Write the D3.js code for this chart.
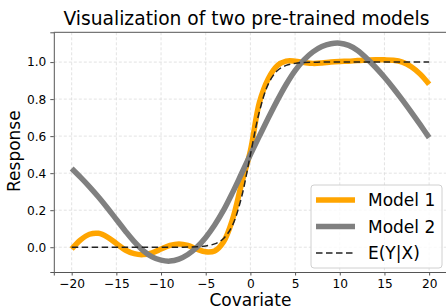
<!DOCTYPE html>
<html>
<head>
<meta charset="utf-8">
<script src="https://cdn.jsdelivr.net/npm/d3@7"></script>
<style>
body { margin: 0; background: #fff; }
svg text { font-family: "DejaVu Sans", sans-serif; fill: #000; }
.grid line { stroke: #dcdcdc; stroke-width: 0.8; stroke-dasharray: 3,2; }
.axis path, .axis line { stroke: #555; }
.axis text { font-size: 12.2px; }
</style>
</head>
<body>
<svg id="chart" width="446" height="307"></svg>
<script>
var covariate = [-20,-19,-18,-17,-16,-15,-14,-13,-12,-11,-10,-9,-8,-7,-6,-5,-4,-3,-2,-1,0,
                 1,2,3,4,5,6,7,8,9,10,11,12,13,14,15,16,17,18,19,20];

var model1 = [-0.01,0.04,0.07,0.075,0.055,0.02,-0.015,-0.035,-0.04,-0.03,-0.01,0.01,0.018,0.01,-0.01,-0.025,-0.02,0.03,0.15,0.34,0.52,
              0.78,0.91,0.98,1.005,1.005,0.998,0.993,0.995,1.0,1.003,1.005,1.008,1.01,1.012,1.012,1.01,1.0,0.975,0.935,0.88];

var model2 = [0.425,0.377,0.326,0.271,0.212,0.15,0.088,0.03,-0.018,-0.052,-0.07,-0.075,-0.064,-0.039,0.0,0.053,0.12,0.2,0.295,0.397,0.5,
              0.6,0.698,0.792,0.879,0.954,1.012,1.055,1.084,1.099,1.102,1.09,1.063,1.02,0.972,0.918,0.859,0.796,0.73,0.662,0.592];

var truth = [0,0,0,0,0,0,0,0,0,0,0,0,0,0.001,0.0025,0.0067,0.018,0.047,0.119,0.269,0.5,
             0.731,0.881,0.953,0.982,0.993,0.9975,0.999,1,1,1,1,1,1,1,1,1,1,1,1,1];

var xTicks = [-20,-15,-10,-5,0,5,10,15,20];
var yTicks = [0.0,0.2,0.4,0.6,0.8,1.0];
var seriesNames = ["Model 1", "Model 2", "E(Y|X)"];

var svg = d3.select("#chart");
var margin = {top: 32.3, left: 53.8};
var width = 447 - margin.left;
var height = 272 - margin.top;

// matplotlib-style 5% margins
var xr = d3.extent(covariate);
var allY = model1.concat(model2, truth);
var yr = d3.extent(allY);
var xPad = (xr[1] - xr[0]) * 0.05, yPad = (yr[1] - yr[0]) * 0.05;

var x = d3.scaleLinear().domain([xr[0] - xPad, xr[1] + xPad]).range([0, width]);
var y = d3.scaleLinear().domain([yr[0] - yPad, yr[1] + yPad]).range([height, 0]);

var g = svg.append("g").attr("transform", "translate(" + margin.left + "," + margin.top + ")");

// grid
g.append("g").attr("class", "grid")
  .selectAll("line.v").data(xTicks).enter().append("line")
  .attr("x1", function(d) { return x(d); }).attr("x2", function(d) { return x(d); })
  .attr("y1", 0).attr("y2", height);
g.append("g").attr("class", "grid")
  .selectAll("line.h").data(yTicks).enter().append("line")
  .attr("y1", function(d) { return y(d); }).attr("y2", function(d) { return y(d); })
  .attr("x1", 0).attr("x2", width);

var fmtX = function(d) { return d < 0 ? "\u2212" + Math.abs(d) : d; };

g.append("g").attr("class", "axis")
  .attr("transform", "translate(0," + height + ")")
  .call(d3.axisBottom(x).tickValues(xTicks).tickFormat(fmtX).tickSizeOuter(0).tickSize(3.5).tickPadding(4));

g.append("g").attr("class", "axis")
  .call(d3.axisLeft(y).tickValues(yTicks).tickFormat(d3.format(".1f")).tickSizeOuter(0).tickSize(3.5).tickPadding(4));

// top / right spines
g.append("line").attr("x1", 0).attr("x2", width).attr("y1", 0).attr("y2", 0).attr("stroke", "#555");
g.append("line").attr("x1", width).attr("x2", width).attr("y1", 0).attr("y2", height).attr("stroke", "#555");

var line = function(vals) {
  return d3.line()
    .x(function(d, i) { return x(covariate[i]); })
    .y(function(d) { return y(d); })
    .curve(d3.curveCatmullRom)(vals);
};

g.append("path").attr("d", line(model1)).attr("fill", "none")
  .attr("stroke", "#ffa500").attr("stroke-width", 5.5);
g.append("path").attr("d", line(model2)).attr("fill", "none")
  .attr("stroke", "#808080").attr("stroke-width", 5.5);
g.append("path").attr("d", line(truth)).attr("fill", "none")
  .attr("stroke", "#222").attr("stroke-width", 1.5).attr("stroke-dasharray", "6.5,3.5");

// title and labels
svg.append("text").attr("x", margin.left + width / 2 - 4).attr("y", 25)
  .attr("text-anchor", "middle").style("font-size", "18.7px")
  .text("Visualization of two pre-trained models");
svg.append("text").attr("x", margin.left + width / 2).attr("y", 305.5)
  .attr("text-anchor", "middle").style("font-size", "17px").text("Covariate");
svg.append("text").attr("transform", "translate(20," + (margin.top + height / 2 - 1) + ") rotate(-90)")
  .attr("text-anchor", "middle").style("font-size", "17px").text("Response");

// legend
var leg = svg.append("g").attr("transform", "translate(311,185)");
leg.append("rect").attr("width", 131).attr("height", 83).attr("rx", 3)
  .attr("fill", "#fff").attr("fill-opacity", 0.8).attr("stroke", "#d0d0d0");
var legStyles = [
  {stroke: "#ffa500", w: 5.5, dash: null},
  {stroke: "#808080", w: 5.5, dash: null},
  {stroke: "#222", w: 1.5, dash: "6.5,3.5"}
];
seriesNames.forEach(function(name, i) {
  var yy = 15 + i * 26.5;
  leg.append("line").attr("x1", 5).attr("x2", 44).attr("y1", yy).attr("y2", yy)
    .attr("stroke", legStyles[i].stroke).attr("stroke-width", legStyles[i].w)
    .attr("stroke-dasharray", legStyles[i].dash);
  leg.append("text").attr("x", 57).attr("y", yy + 6).style("font-size", "17px").text(name);
});
</script>
</body>
</html>
